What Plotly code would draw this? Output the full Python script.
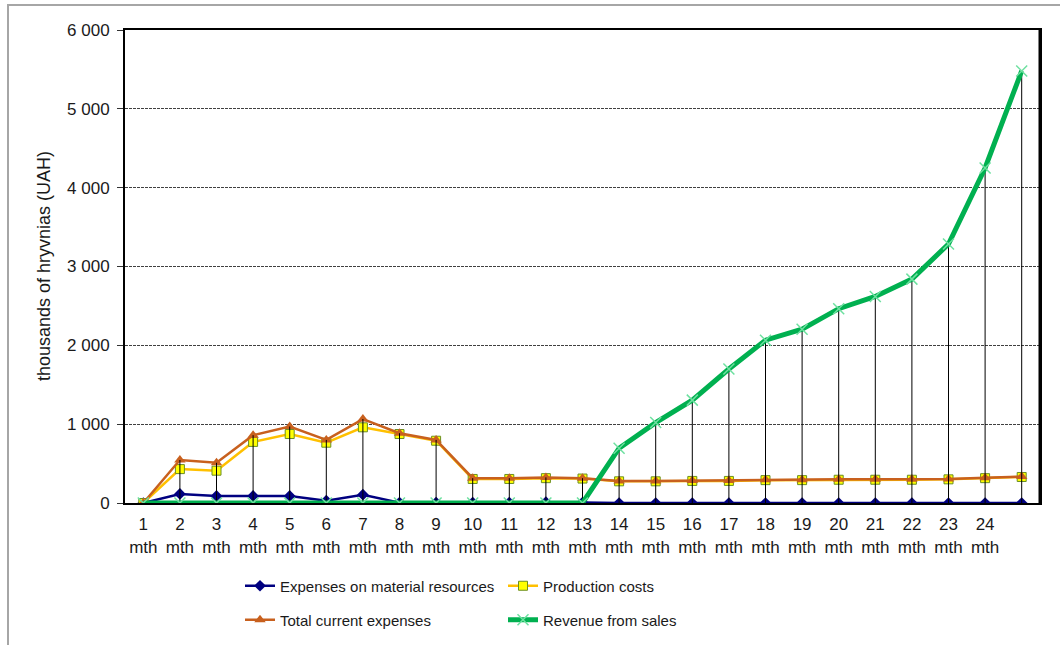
import plotly.graph_objects as go

# Months 1..25 (the 25th month has no tick label)
months = list(range(1, 26))
tick_months = list(range(1, 25))
tick_labels = [f"{m}<br>mth" for m in tick_months]

material = [0, 115, 90, 90, 90, 30, 105, 5, 5, 5, 5, 10, 5,
            0, 0, 0, 0, 0, 0, 0, 0, 0, 0, 0, 0]
production = [0, 430, 410, 775, 875, 765, 960, 875, 790, 305,
              305, 315, 310, 275, 275, 280, 280, 290, 290, 295,
              295, 295, 300, 315, 330]
total = [0, 545, 510, 860, 970, 800, 1065, 885, 800, 315,
         315, 325, 315, 280, 280, 285, 285, 295, 295, 300,
         300, 300, 305, 320, 335]
revenue = [0, 0, 0, 0, 0, 0, 0, 0, 0, 0, 0, 0, 0,
           695, 1020, 1305, 1700, 2065, 2205, 2465, 2620, 2840,
           3285, 4250, 5480]

FONT = "Liberation Sans, Arial, sans-serif"
TEXT = "#1a1a1a"

# plot-area geometry in pixels
W, H = 1060, 645
L, R, T, B = 125, 20, 30, 142
PW, PH = W - L - R, H - T - B


def px_x(p):
    return (p - L) / PW


def px_y(p):
    return (H - B - p) / PH


fig = go.Figure()

fig.add_trace(go.Scatter(
    x=months, y=material, name="Expenses on material resources",
    mode="lines+markers", legend="legend",
    line=dict(color="#000080", width=2.5),
    marker=dict(symbol="diamond", size=9, color="#000080"),
))
fig.add_trace(go.Scatter(
    x=months, y=production, name="Production costs",
    mode="lines+markers", legend="legend",
    line=dict(color="#FFC000", width=2.5),
    marker=dict(symbol="square", size=9, color="#FFFF00",
                line=dict(color="#6B8E23", width=1)),
))
fig.add_trace(go.Scatter(
    x=months, y=total, name="Total current expenses",
    mode="lines+markers", legend="legend2",
    line=dict(color="#C8601E", width=2.5),
    marker=dict(symbol="triangle-up", size=10, color="#C8601E"),
))

# high-low lines: from the highest to the lowest series value per month
hl_x, hl_y = [], []
for i, m in enumerate(months):
    vals = [material[i], production[i], total[i], revenue[i]]
    hl_x += [m, m, None]
    hl_y += [max(vals), min(vals), None]
fig.add_trace(go.Scatter(
    x=hl_x, y=hl_y, mode="lines", showlegend=False, hoverinfo="skip",
    line=dict(color="#000000", width=1),
))

fig.add_trace(go.Scatter(
    x=months, y=revenue, name="Revenue from sales",
    mode="lines+markers", legend="legend2",
    line=dict(color="#00B050", width=5),
    marker=dict(symbol="x-thin", size=11, color="#6EE0A0",
                line=dict(color="#6EE0A0", width=1.5)),
))

legend_style = dict(
    orientation="h", xref="container", yref="container",
    xanchor="left", yanchor="middle", entrywidth=218,
    font=dict(family=FONT, size=15, color=TEXT),
    bgcolor="rgba(0,0,0,0)", tracegroupgap=0,
)

fig.update_layout(
    width=W, height=H,
    margin=dict(l=L, r=R, t=T, b=B),
    paper_bgcolor="white", plot_bgcolor="white",
    font=dict(family=FONT, size=17, color=TEXT),
    separators=". ",
    showlegend=True,
    legend=dict(legend_style, x=240 / W, y=(H - 586) / H),
    legend2=dict(legend_style, x=240 / W, y=(H - 620) / H),
    xaxis=dict(
        range=[0.5, 25.5], tickmode="array", tickvals=tick_months,
        ticktext=tick_labels, showgrid=False, zeroline=False,
        showline=True, linecolor="black", linewidth=2, mirror=True,
        ticks="", tickfont=dict(family=FONT, size=17, color=TEXT),
        ticklabelstandoff=5,
    ),
    yaxis=dict(
        range=[0, 6000], tickmode="array",
        tickvals=[0, 1000, 2000, 3000, 4000, 5000, 6000],
        tickformat=",d", separatethousands=True,
        showgrid=True, gridcolor="#404040", gridwidth=1, griddash="3px,1px",
        zeroline=False, showline=True, linecolor="black", linewidth=2,
        mirror=True, ticks="outside", ticklen=6, tickcolor="#333333",
        tickfont=dict(family=FONT, size=17, color=TEXT),
        ticklabelstandoff=4,
    ),
    annotations=[dict(
        text="thousands of hryvnias (UAH)", textangle=-90,
        xref="paper", yref="paper", x=px_x(44), y=px_y(266),
        xanchor="center", yanchor="middle", showarrow=False,
        font=dict(family=FONT, size=18, color=TEXT),
    )],
    shapes=[
        # outer chart frame
        dict(type="rect", xref="paper", yref="paper",
             x0=px_x(8), x1=px_x(1075), y0=px_y(660), y1=px_y(5),
             line=dict(color="#A6A6A6", width=2), layer="below"),
        # heavier right edge of the plot area
        dict(type="line", xref="paper", yref="paper",
             x0=1, x1=1, y0=0, y1=1, line=dict(color="black", width=3)),
    ],
)

fig.write_html("out.html")
